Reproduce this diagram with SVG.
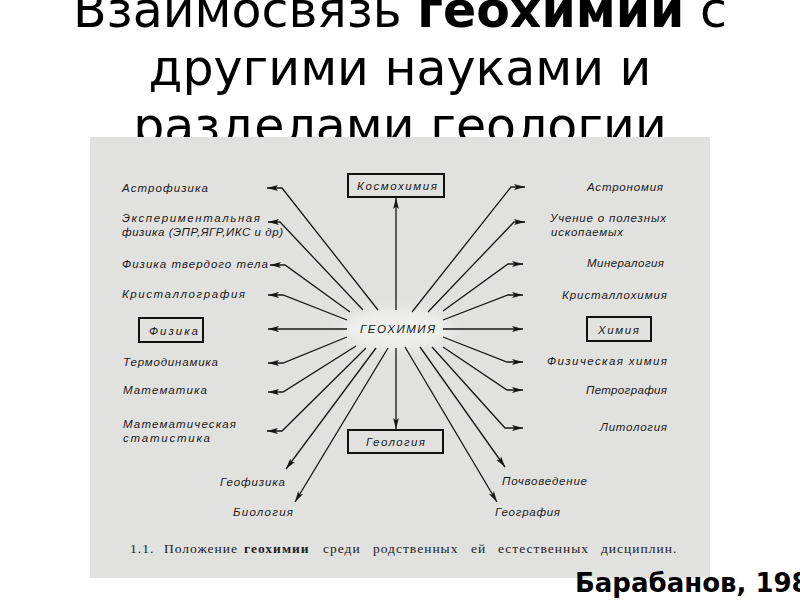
<svg xmlns="http://www.w3.org/2000/svg" width="800" height="600" viewBox="0 0 800 600">
<defs>
<style>
.title{font-family:"DejaVu Sans",sans-serif;font-size:49px;fill:#000;text-anchor:middle}
.lbl{font-family:"Liberation Sans",Arial,sans-serif;font-style:italic;font-size:11.5px;fill:#1a1a1a}
.box{fill:none;stroke:#111;stroke-width:2}
.con{fill:none;stroke:#161616;stroke-width:1.3;marker-end:url(#ah)}
.cap{font-family:"Liberation Serif","Times New Roman",serif;font-size:13.5px;letter-spacing:1px;fill:#222}
.auth{font-family:"DejaVu Sans",sans-serif;font-weight:bold;font-size:26px;fill:#000}
</style>
<marker id="ah" markerUnits="userSpaceOnUse" markerWidth="12" markerHeight="8" refX="11" refY="3.5" orient="auto">
<path d="M0,0.6 L11,3.5 L0,6.4 L2.5,3.5 z" fill="#161616"/>
</marker>
<filter id="blur" x="-50%" y="-50%" width="200%" height="200%"><feGaussianBlur stdDeviation="6"/></filter>
</defs>
<rect x="0" y="0" width="800" height="600" fill="#fff"/>
<g id="title">
<text class="title" x="400" y="27">Взаимосвязь <tspan font-weight="bold">геохимии</tspan> с</text>
<text class="title" x="400" y="85">другими науками и</text>
<text class="title" x="400" y="143">разделами геологии</text>
</g>
<rect id="scan" x="90" y="137" width="620" height="441" fill="#e1e1df"/>
<ellipse cx="397" cy="329" rx="55" ry="20" fill="#efefed" filter="url(#blur)"/>
<g id="connectors">
<polyline class="con" points="378,310 282,188 267,188"/>
<polyline class="con" points="363,310 280,222 268,222"/>
<polyline class="con" points="350,312 285,265 270,265"/>
<polyline class="con" points="347,320 283,295 268,295"/>
<polyline class="con" points="347,329 268,329"/>
<polyline class="con" points="347,337 283,363 268,363"/>
<polyline class="con" points="356,346 283,392 268,392"/>
<polyline class="con" points="366,348 282,431 267,431"/>
<polyline class="con" points="376,348 286,469"/>
<polyline class="con" points="388,348 295,502"/>
<polyline class="con" points="396,310 396,198"/>
<polyline class="con" points="396,348 396,429"/>
<polyline class="con" points="412,312 511,187 525,187"/>
<polyline class="con" points="428,312 514,222 525,222"/>
<polyline class="con" points="443,311 508,264 523,264"/>
<polyline class="con" points="443,320 508,295 523,295"/>
<polyline class="con" points="443,329 523,329"/>
<polyline class="con" points="443,337 507,362 523,362"/>
<polyline class="con" points="443,347 507,390 523,390"/>
<polyline class="con" points="432,347 505,428 523,428"/>
<polyline class="con" points="420,347 505,467"/>
<polyline class="con" points="405,347 497,502"/>
</g>
<g id="geochem"><text class="lbl" x="360" y="333" textLength="75" lengthAdjust="spacing">ГЕОХИМИЯ</text></g>
<g id="cosmochem"><rect class="box" x="348" y="174" width="96" height="23"/><text class="lbl" x="357" y="190" textLength="80" lengthAdjust="spacing">Космохимия</text></g>
<g id="geology"><rect class="box" x="348" y="430" width="95" height="23"/><text class="lbl" x="366" y="446" textLength="59" lengthAdjust="spacing">Геология</text></g>
<g id="physics"><rect class="box" x="139" y="318" width="64" height="24"/><text class="lbl" x="149" y="335" textLength="49" lengthAdjust="spacing">Физика</text></g>
<g id="chemistry"><rect class="box" x="587" y="317" width="64" height="24"/><text class="lbl" x="598" y="334" textLength="41" lengthAdjust="spacing">Химия</text></g>
<g id="astrophysics"><text class="lbl" x="122" y="192" textLength="86" lengthAdjust="spacing">Астрофизика</text></g>
<g id="expphysics"><text class="lbl" x="122" y="222" textLength="138" lengthAdjust="spacing">Экспериментальная</text><text class="lbl" x="122" y="236" textLength="161" lengthAdjust="spacing">физика (ЭПР,ЯГР,ИКС и др)</text></g>
<g id="solidstate"><text class="lbl" x="122" y="268" textLength="146" lengthAdjust="spacing">Физика твердого тела</text></g>
<g id="crystallography"><text class="lbl" x="122" y="298" textLength="123" lengthAdjust="spacing">Кристаллография</text></g>
<g id="thermodynamics"><text class="lbl" x="123" y="366" textLength="95" lengthAdjust="spacing">Термодинамика</text></g>
<g id="mathematics"><text class="lbl" x="123" y="394" textLength="84" lengthAdjust="spacing">Математика</text></g>
<g id="mathstat"><text class="lbl" x="123" y="428" textLength="113" lengthAdjust="spacing">Математическая</text><text class="lbl" x="123" y="442" textLength="87" lengthAdjust="spacing">статистика</text></g>
<g id="geophysics"><text class="lbl" x="220" y="486" textLength="65" lengthAdjust="spacing">Геофизика</text></g>
<g id="biology"><text class="lbl" x="233" y="516" textLength="60" lengthAdjust="spacing">Биология</text></g>
<g id="astronomy"><text class="lbl" x="587" y="191" textLength="76" lengthAdjust="spacing">Астрономия</text></g>
<g id="ores"><text class="lbl" x="550" y="222" textLength="116" lengthAdjust="spacing">Учение о полезных</text><text class="lbl" x="551" y="236" textLength="72" lengthAdjust="spacing">ископаемых</text></g>
<g id="mineralogy"><text class="lbl" x="587" y="267" textLength="77" lengthAdjust="spacing">Минералогия</text></g>
<g id="crystalchem"><text class="lbl" x="562" y="299" textLength="105" lengthAdjust="spacing">Кристаллохимия</text></g>
<g id="physchem"><text class="lbl" x="547" y="365" textLength="120" lengthAdjust="spacing">Физическая химия</text></g>
<g id="petrography"><text class="lbl" x="586" y="394" textLength="81" lengthAdjust="spacing">Петрография</text></g>
<g id="lithology"><text class="lbl" x="600" y="431" textLength="67" lengthAdjust="spacing">Литология</text></g>
<g id="soil"><text class="lbl" x="502" y="485" textLength="85" lengthAdjust="spacing">Почвоведение</text></g>
<g id="geography"><text class="lbl" x="495" y="516" textLength="65" lengthAdjust="spacing">География</text></g>
<g id="caption">
<text class="cap" y="553"><tspan x="130">1.1.</tspan><tspan x="164">Положение</tspan><tspan x="244" font-weight="bold">геохимии</tspan><tspan x="323">среди</tspan><tspan x="373">родственных</tspan><tspan x="471">ей</tspan><tspan x="498">естественных</tspan><tspan x="601">дисциплин.</tspan></text>
</g>
<g id="author"><text class="auth" x="575" y="592">Барабанов, 198</text></g>
</svg>
